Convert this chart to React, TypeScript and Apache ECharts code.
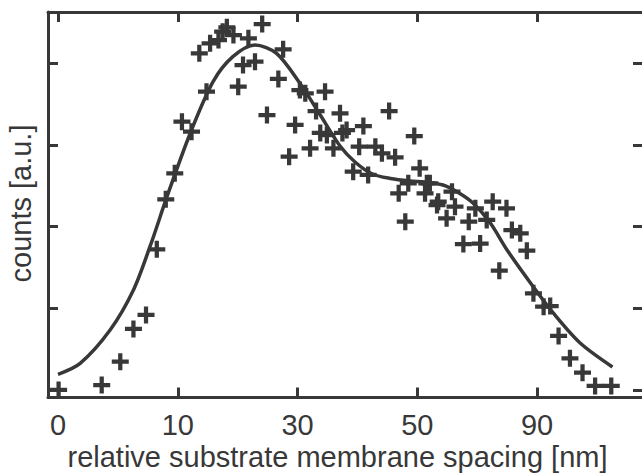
import React, { useEffect, useRef } from "react";
import * as echarts from "echarts";

// x positions on the drawn axis; tick marks at 0,20,40,60,80 carry the labels below
const xTickValues = [0, 20, 40, 60, 80];
const xTickLabels = ["0", "10", "30", "50", "90"];
const yTickValues = [0, 100, 200, 300, 400];

const pointsX = [
  0.1, 7.3, 10.4, 12.6, 14.7, 16.5, 18.0, 19.5, 20.7, 22.3, 23.6, 24.8, 25.4, 26.8,
  27.5, 28.2, 29.3, 30.1, 30.9, 31.8, 32.9, 34.1, 34.9, 36.8, 37.6, 38.6, 39.6, 40.4,
  41.3, 42.1, 43.1, 44.6, 43.8, 44.9, 46.0, 47.1, 48.2, 47.5, 51.0, 55.3, 59.5, 50.3,
  53.0, 54.1, 56.3, 49.3, 51.8, 60.4, 58.5, 56.9, 61.6, 61.3, 58.0, 63.3, 65.8, 66.3,
  64.9, 68.6, 69.7, 71.6, 72.6, 74.9, 75.8, 77.2, 67.7, 70.5, 73.7, 78.3, 79.4, 81.1,
  82.2, 83.6, 85.5, 87.6, 89.7, 92.4, 62.1, 63.5,
];
const pointsY = [
  0, 6.1, 34.6, 74.7, 91.8, 172.2, 233.4, 265.2, 328.4, 316.2, 412.1, 365.1, 424.4, 428.4,
  438.6, 443.9, 434.5, 371.2, 397.8, 430.5, 401.9, 448.0, 336.6, 380.7, 417.0, 285.6, 324.4, 367.2,
  363.2, 295.8, 341.5, 365.1, 314.6, 312.1, 295.8, 338.7, 318.2, 314.6, 323.1, 341.5, 310.9, 297.8,
  297.8, 289.7, 284.8, 267.2, 263.2, 271.4, 253.0, 240.8, 253.0, 240.8, 206.0, 226.4, 242.7, 224.4,
  210.2, 206.0, 222.4, 208.1, 230.5, 222.4, 195.8, 191.8, 178.7, 179.3, 146.0, 170.5, 118.4, 102.0,
  102.8, 66.1, 38.8, 21.2, 4.9, 4.9, 253.0, 230.5,
];

const fitX = [
  0, 3.7, 8.7, 12.6, 15.4, 18.2, 22.1, 25.9, 29.2, 32.9, 36.5, 40.4, 43.8, 47.1,
  49.6, 52.5, 55.5, 58.8, 61.3, 64.3, 66.7, 69.3, 72.2, 75.0, 79.4, 82.7, 87.2, 92.6,
];
const fitY = [
  19.2, 32.6, 73.4, 122.4, 176.3, 236.6, 314.6, 377.4, 408, 422.3, 412.1, 375.4, 336.6, 298.7,
  279.1, 264.4, 258.9, 255.8, 254.6, 250.9, 242.4, 228.9, 204.4, 171.4, 126.1, 94.3, 57.5, 28.2,
];

const INK = "#383838";
const FONT = "Liberation Sans, Arial, sans-serif";
const PLUS = "path://M3,0H5V3H8V5H5V8H3V5H0V3H3Z";

export default function App() {
  const ref = useRef<HTMLDivElement>(null);
  useEffect(() => {
    if (!ref.current) return;
    const chart = echarts.init(ref.current, null, { renderer: "svg" });
    const axisCommon = {
      type: "value",
      axisLine: { show: true, onZero: false, lineStyle: { color: INK, width: 3 } },
      axisTick: { show: true, inside: true, length: 10, lineStyle: { color: INK, width: 3 } },
      splitLine: { show: false },
    };
    const xRange = { min: -1.67, max: 97.7 };
    const yRange = { min: -9.2, max: 462.7 };
    chart.setOption({
      animation: false,
      backgroundColor: "#ffffff",
      grid: { left: 48, top: 12, right: -1, bottom: 75.5, outerBoundsMode: "none", containLabel: false },
      xAxis: [
        {
          ...axisCommon,
          ...xRange,
          position: "bottom",
          axisTick: { ...axisCommon.axisTick, customValues: xTickValues },
          axisLabel: {
            show: true,
            customValues: xTickValues,
            formatter: (v: number) => xTickLabels[xTickValues.indexOf(v)] ?? "",
            color: INK,
            fontFamily: FONT,
            fontSize: 29,
            margin: 13,
          },
        },
        {
          ...axisCommon,
          ...xRange,
          position: "top",
          axisTick: { ...axisCommon.axisTick, customValues: xTickValues },
          axisLabel: { show: false },
        },
      ],
      yAxis: [
        {
          ...axisCommon,
          ...yRange,
          position: "left",
          axisTick: { ...axisCommon.axisTick, customValues: yTickValues },
          axisLabel: { show: false },
        },
        {
          ...axisCommon,
          ...yRange,
          position: "right",
          axisTick: { ...axisCommon.axisTick, customValues: yTickValues },
          axisLabel: { show: false },
        },
      ],
      graphic: [
        {
          type: "text",
          x: 337.5,
          y: 457,
          style: {
            text: "relative substrate membrane spacing [nm]",
            fill: INK,
            font: `29px ${FONT}`,
            align: "center",
            verticalAlign: "middle",
          },
        },
        {
          type: "text",
          x: 21,
          y: 203.5,
          rotation: Math.PI / 2,
          style: {
            text: "counts [a.u.]",
            fill: INK,
            font: `29px ${FONT}`,
            align: "center",
            verticalAlign: "middle",
          },
        },
      ],
      series: [
        {
          type: "line",
          data: fitX.map((x, i) => [x, fitY[i]]),
          smooth: 0.3,
          showSymbol: false,
          symbol: "none",
          lineStyle: { color: INK, width: 3.5 },
          z: 2,
        },
        {
          type: "scatter",
          data: pointsX.map((x, i) => [x, pointsY[i]]),
          symbol: PLUS,
          symbolSize: 17,
          itemStyle: { color: INK, opacity: 1 },
          z: 3,
        },
      ],
    });
    return () => chart.dispose();
  }, []);
  return (
    <div
      ref={ref}
      style={{ position: "fixed", left: 0, top: 0, width: 642, height: 473, background: "#fff" }}
    />
  );
}
